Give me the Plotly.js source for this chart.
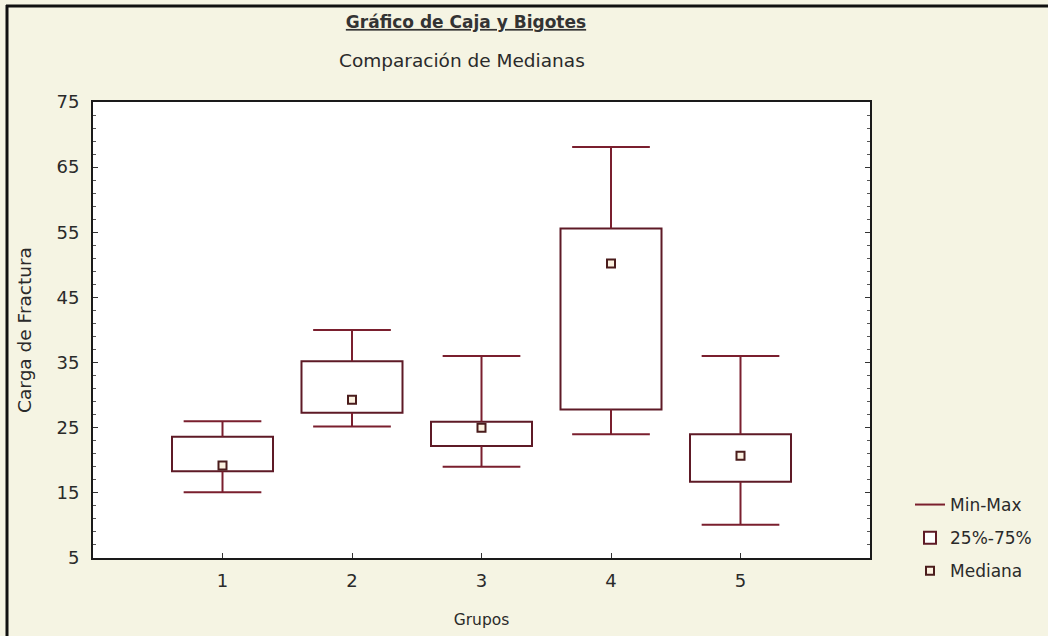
<!DOCTYPE html>
<html>
<head>
<meta charset="utf-8">
<script src="https://cdn.plot.ly/plotly-3.0.1.min.js"></script>
<style>
  html, body { margin: 0; padding: 0; background: #f5f4e3; }
  #chart { width: 1048px; height: 636px; }
</style>
</head>
<body>
<div id="chart"></div>
<script>
// ---- data ----
const groups   = [1, 2, 3, 4, 5];
const groupLabels = ['1', '2', '3', '4', '5'];
const minVals  = [15.1, 25.2, 19.0, 24.0, 10.1];
const q1Vals   = [18.3, 27.3, 22.2, 27.8, 16.7];
const medVals  = [19.2, 29.3, 25.0, 50.2, 20.7];
const q3Vals   = [23.6, 35.2, 25.9, 55.6, 24.0];
const maxVals  = [26.0, 40.0, 36.0, 68.1, 36.0];
const legendNames = ['Min-Max', '25%-75%', 'Mediana'];
const titleText = 'Gráfico de Caja y Bigotes';
const subtitleText = 'Comparación de Medianas';
const xTitle = 'Grupos';
const yTitle = 'Carga de Fractura';

// ---- styling ----
const FONT = 'DejaVu Sans, Arial, sans-serif';
const LINE = '#7a1f2e';
const boxWidth = 0.78;  // box width (data units)
const capHalf = 0.30;   // half whisker-cap width (data units)

// whiskers: lines min->q1 and q3->max plus caps, built from the data arrays
const wx = [], wy = [];
groups.forEach((g, i) => {
  wx.push(g, g, null, g, g, null,
          g - capHalf, g + capHalf, null, g - capHalf, g + capHalf, null);
  wy.push(minVals[i], q1Vals[i], null, q3Vals[i], maxVals[i], null,
          minVals[i], minVals[i], null, maxVals[i], maxVals[i], null);
});

// boxes as floating bars from q1 to q3
const boxHeights = q3Vals.map((v, i) => v - q1Vals[i]);

const traces = [
  {
    type: 'bar', name: legendNames[1], legendgroup: 'b', legendrank: 2,
    x: groups, y: boxHeights, base: q1Vals, width: boxWidth,
    marker: { color: '#ffffff', line: { color: '#5e1a26', width: 2 } },
    hoverinfo: 'skip'
  },
  {
    type: 'scatter', mode: 'lines', name: legendNames[0], legendgroup: 'a', legendrank: 1,
    x: wx, y: wy, connectgaps: false,
    line: { color: LINE, width: 2 }, hoverinfo: 'skip'
  },
  {
    type: 'scatter', mode: 'markers', name: legendNames[2], legendgroup: 'c', legendrank: 3,
    x: groups, y: medVals,
    marker: { symbol: 'square', size: 8, color: '#fbf1e0', line: { color: '#4a1c1c', width: 2 } }
  }
];

const plotL = 93, plotR = 870, plotT = 102, plotB = 558;
const pw = plotR - plotL, ph = plotB - plotT;

const layout = {
  width: 1048, height: 636,
  margin: { l: plotL, r: 1048 - plotR, t: plotT, b: 636 - plotB, autoexpand: false },
  paper_bgcolor: '#f5f4e3',
  plot_bgcolor: '#ffffff',
  font: { family: FONT, size: 17, color: '#2a2a2a' },
  showlegend: true,
  barmode: 'overlay',
  title: {
    text: '<b><u>' + titleText + '</u></b>',
    x: 466 / 1048, xanchor: 'center',
    y: 1 - 22 / 636, yanchor: 'middle',
    font: { family: FONT, size: 17, color: '#333333' }
  },
  annotations: [{
    text: subtitleText, showarrow: false,
    xref: 'paper', yref: 'paper',
    x: (462 - plotL) / pw, xanchor: 'center',
    y: (plotB - 60) / ph, yanchor: 'middle',
    font: { family: FONT, size: 18.5, color: '#2a2a2a' }
  }],
  xaxis: {
    range: [0, 6],
    tickvals: groups, ticktext: groupLabels,
    ticks: 'inside', ticklen: 5, tickwidth: 1, tickcolor: '#333',
    ticklabelstandoff: 5,
    showgrid: false, zeroline: false,
    showline: true, linecolor: '#1a1a1a', linewidth: 2, mirror: true,
    tickfont: { family: FONT, size: 18, color: '#2a2a2a' },
    title: { text: xTitle, standoff: 25, font: { family: FONT, size: 15.5, color: '#2a2a2a' } },
    fixedrange: true
  },
  yaxis: {
    range: [5, 75],
    tick0: 5, dtick: 10,
    ticks: 'inside', ticklen: 5, tickwidth: 1, tickcolor: '#333',
    minor: { tick0: 5, dtick: 2, ticks: 'inside', ticklen: 3, tickcolor: '#555' },
    ticklabelstandoff: 8,
    showgrid: false, zeroline: false,
    showline: true, linecolor: '#1a1a1a', linewidth: 2, mirror: 'ticks',
    tickfont: { family: FONT, size: 18, color: '#2a2a2a' },
    title: { text: yTitle, standoff: 20, font: { family: FONT, size: 18.5, color: '#2a2a2a' } },
    fixedrange: true
  },
  legend: {
    xref: 'container', yref: 'container',
    x: 910 / 1048, xanchor: 'left',
    y: 1 - 487 / 636, yanchor: 'top',
    bgcolor: 'rgba(0,0,0,0)', borderwidth: 0,
    traceorder: 'grouped',
    tracegroupgap: 8,
    font: { family: FONT, size: 17, color: '#2a2a2a' }
  },
  shapes: [
    { type: 'line', xref: 'paper', yref: 'paper',
      x0: (7 - plotL) / pw, x1: (7 - plotL) / pw,
      y0: (plotB - 700) / ph, y1: (plotB - 5) / ph,
      line: { color: '#111', width: 3 } },
    { type: 'line', xref: 'paper', yref: 'paper',
      x0: (6 - plotL) / pw, x1: (1100 - plotL) / pw,
      y0: (plotB - 6) / ph, y1: (plotB - 6) / ph,
      line: { color: '#111', width: 3 } }
  ]
};

Plotly.newPlot('chart', traces, layout, { displayModeBar: false, staticPlot: true });
</script>
</body>
</html>
